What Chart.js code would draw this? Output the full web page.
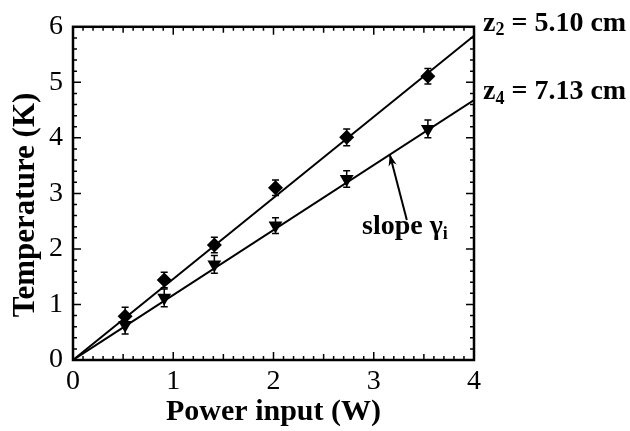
<!DOCTYPE html>
<html lang="en">
<head>
  <meta charset="UTF-8" />
  <title>Temperature vs power input</title>
  <script src="https://cdn.jsdelivr.net/npm/chart.js"></script>
  <style>
    body { margin: 0; background: #fff; }
    #wrap { width: 630px; height: 431px; position: relative; }
  </style>
</head>
<body>
  <div id="wrap"><canvas id="tempChart"></canvas></div>
  <script>
    const power = [0.52, 0.91, 1.41, 2.02, 2.73, 3.54];
    const tempZ2 = [0.79, 1.44, 2.07, 3.10, 4.01, 5.11];
    const tempZ4 = [0.63, 1.12, 1.72, 2.42, 3.26, 4.16];
    const errZ2 = [0.16, 0.14, 0.14, 0.14, 0.15, 0.14];
    const errZ4 = [0.16, 0.16, 0.16, 0.14, 0.15, 0.16];

    // linear fits through the origin
    const fitX = [0, 4];
    const fitZ2 = [0, 5.84];
    const fitZ4 = [0, 4.68];

    const yTitle = 'Temperature (K)';
    const labelZ2 = ['z', '2', ' = 5.10 cm'];
    const labelZ4 = ['z', '4', ' = 7.13 cm'];
    const slopeLabel = ['slope \u03b3', 'i'];
    const arrowFrom = [3.33, 2.52];
    const arrowTo = [3.16, 3.70];

    const serif = '"Liberation Serif", "Times New Roman", serif';
    Chart.defaults.color = '#000';
    Chart.defaults.font.family = serif;

    const pts = (xs, ys) => xs.map((x, i) => ({ x: x, y: ys[i] }));

    // frame, inward ticks, error bars, arrow and text
    const decor = {
      id: 'decor',
      beforeDatasetsDraw(chart) {
        const ctx = chart.ctx, xs = chart.scales.x, ys = chart.scales.y;
        ctx.save();
        ctx.strokeStyle = '#000';
        ctx.lineWidth = 1.5;
        [[tempZ2, errZ2], [tempZ4, errZ4]].forEach(([vals, errs]) => {
          power.forEach((p, i) => {
            const px = xs.getPixelForValue(p);
            const top = ys.getPixelForValue(vals[i] + errs[i]);
            const bot = ys.getPixelForValue(vals[i] - errs[i]);
            ctx.beginPath();
            ctx.moveTo(px, top); ctx.lineTo(px, bot);
            ctx.moveTo(px - 3.5, top); ctx.lineTo(px + 3.5, top);
            ctx.moveTo(px - 3.5, bot); ctx.lineTo(px + 3.5, bot);
            ctx.stroke();
          });
        });
        ctx.restore();
      },
      afterDraw(chart) {
        const ctx = chart.ctx, a = chart.chartArea;
        const xs = chart.scales.x, ys = chart.scales.y;
        ctx.save();
        ctx.strokeStyle = '#000';
        ctx.lineWidth = 2.5;
        ctx.strokeRect(a.left, a.top, a.right - a.left, a.bottom - a.top);

        ctx.lineWidth = 1.5;
        ctx.beginPath();
        for (let i = 1; i < 40; i++) {
          const v = i / 10;
          const len = (i % 10 === 0) ? 8 : (i % 5 === 0 ? 6 : 4);
          const px = xs.getPixelForValue(v);
          ctx.moveTo(px, a.bottom); ctx.lineTo(px, a.bottom - len);
          ctx.moveTo(px, a.top); ctx.lineTo(px, a.top + len);
        }
        for (let i = 1; i < 30; i++) {
          const v = i / 5;
          const len = (i % 5 === 0) ? 8 : 4;
          const py = ys.getPixelForValue(v);
          ctx.moveTo(a.left, py); ctx.lineTo(a.left + len, py);
          ctx.moveTo(a.right, py); ctx.lineTo(a.right - len, py);
        }
        ctx.stroke();

        // arrow to the lower fit line
        const x0 = xs.getPixelForValue(arrowFrom[0]), y0 = ys.getPixelForValue(arrowFrom[1]);
        const x1 = xs.getPixelForValue(arrowTo[0]), y1 = ys.getPixelForValue(arrowTo[1]);
        const ang = Math.atan2(y1 - y0, x1 - x0);
        ctx.lineWidth = 2;
        ctx.beginPath();
        ctx.moveTo(x0, y0); ctx.lineTo(x1, y1);
        ctx.stroke();
        ctx.beginPath();
        ctx.moveTo(x1, y1);
        ctx.lineTo(x1 - 12 * Math.cos(ang - 0.35), y1 - 12 * Math.sin(ang - 0.35));
        ctx.lineTo(x1 - 8 * Math.cos(ang), y1 - 8 * Math.sin(ang));
        ctx.lineTo(x1 - 12 * Math.cos(ang + 0.35), y1 - 12 * Math.sin(ang + 0.35));
        ctx.closePath();
        ctx.fillStyle = '#000';
        ctx.fill();

        ctx.fillStyle = '#000';
        ctx.textBaseline = 'middle';
        const subText = (parts, x, y) => {
          ctx.font = 'bold 28px ' + serif;
          ctx.fillText(parts[0], x, y);
          x += ctx.measureText(parts[0]).width;
          ctx.font = 'bold 18px ' + serif;
          ctx.fillText(parts[1], x, y + 7);
          x += ctx.measureText(parts[1]).width;
          ctx.font = 'bold 28px ' + serif;
          ctx.fillText(parts[2], x, y);
        };
        subText(labelZ2, a.right + 9, ys.getPixelForValue(fitZ2[1]) - 12);
        subText(labelZ4, a.right + 9, ys.getPixelForValue(fitZ4[1]) - 8);

        ctx.font = 'bold 28px ' + serif;
        ctx.fillText(slopeLabel[0], 362, 227);
        const w = ctx.measureText(slopeLabel[0]).width;
        ctx.font = 'bold 18px ' + serif;
        ctx.fillText(slopeLabel[1], 362 + w, 234);

        // y axis title, sits a little below the axis middle in the original
        ctx.translate(26, 205);
        ctx.rotate(-Math.PI / 2);
        ctx.textAlign = 'center';
        ctx.font = 'bold 31px ' + serif;
        ctx.fillText(yTitle, 0, 0);
        ctx.restore();
      }
    };

    new Chart(document.getElementById('tempChart'), {
      type: 'scatter',
      data: {
        datasets: [
          {
            label: 'z2 fit', type: 'line', data: pts(fitX, fitZ2),
            borderColor: '#000', borderWidth: 2, pointRadius: 0, fill: false
          },
          {
            label: 'z4 fit', type: 'line', data: pts(fitX, fitZ4),
            borderColor: '#000', borderWidth: 2, pointRadius: 0, fill: false
          },
          {
            label: 'z2 = 5.10 cm', data: pts(power, tempZ2),
            pointStyle: 'rectRot', pointRadius: 7.5,
            backgroundColor: '#000', borderColor: '#000', borderWidth: 0
          },
          {
            label: 'z4 = 7.13 cm', data: pts(power, tempZ4),
            pointStyle: 'triangle', rotation: 180, pointRadius: 8,
            backgroundColor: '#000', borderColor: '#000', borderWidth: 0
          }
        ]
      },
      options: {
        responsive: true,
        maintainAspectRatio: false,
        animation: false,
        layout: { padding: { top: 19, right: 156, left: 0, bottom: 0 } },
        plugins: { legend: { display: false }, tooltip: { enabled: false } },
        scales: {
          x: {
            type: 'linear', min: 0, max: 4,
            grid: { display: false, drawTicks: false },
            border: { display: false },
            ticks: { stepSize: 1, padding: 5, font: { size: 28 } },
            title: { display: true, text: 'Power input (W)', padding: { top: 0, bottom: 1 },
                     font: { size: 30, weight: 'bold' } },
            afterFit(s) { s.height = 71; }
          },
          y: {
            type: 'linear', min: 0, max: 6,
            grid: { display: false, drawTicks: false },
            border: { display: false },
            ticks: { stepSize: 1, padding: 10, font: { size: 28 } },
            title: { display: false },
            afterFit(s) { s.width = 73; }
          }
        }
      },
      plugins: [decor]
    });
  </script>
</body>
</html>
